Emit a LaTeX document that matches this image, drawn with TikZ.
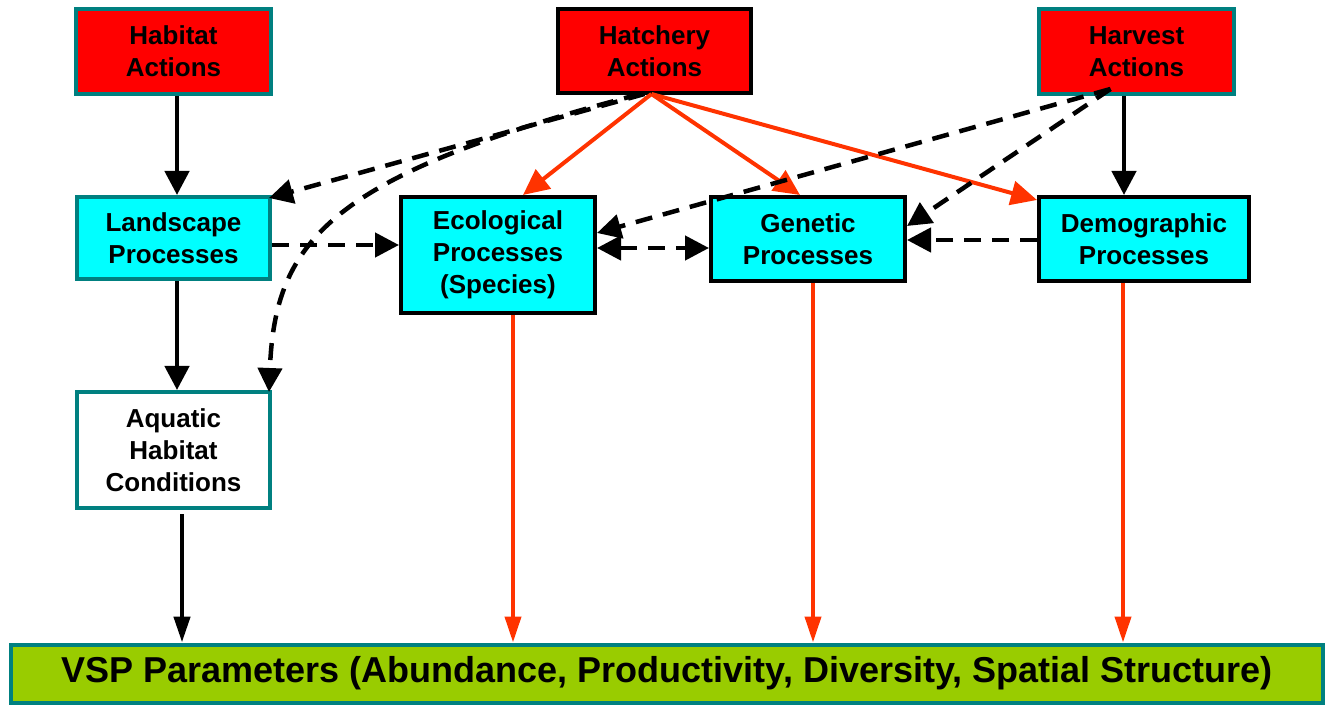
\documentclass[tikz,border=0pt]{standalone}
\usepackage{fontspec}
\setmainfont{Liberation Sans}
\usetikzlibrary{arrows.meta,calc}
\definecolor{boxred}{HTML}{FF0000}
\definecolor{teal}{HTML}{008080}
\definecolor{cyanfill}{HTML}{00FFFF}
\definecolor{lime}{HTML}{99CC00}
\definecolor{arrred}{HTML}{FF3300}
\begin{document}
\begin{tikzpicture}[x=1pt,y=-1pt,
  box/.style={draw, line width=4pt, inner sep=0pt, align=center,
    font=\fontsize{26}{32}\selectfont\bfseries},
  act/.style={box, fill=boxred},
  proc/.style={box, fill=cyanfill},
  blk/.style={line width=4.5pt, -{Triangle[length=24pt,width=24pt]}},
  blkd/.style={blk, dash pattern=on 17pt off 11pt},
  rd/.style={draw=arrred, line width=4pt, -{Triangle[length=26pt,width=24pt]}},
  rdv/.style={draw=arrred, line width=4pt, -{Triangle[length=26pt,width=16pt]}},
  blkv/.style={line width=4.5pt, -{Triangle[length=26pt,width=16pt]}}
]
\useasboundingbox (0,0) rectangle (1328,708);
% boxes
\node[act, draw=teal, minimum width=195pt, minimum height=85pt] (hab) at (173.5,51.5) {Habitat\\Actions};
\node[act, draw=black, minimum width=193pt, minimum height=84pt] (hatch) at (654.5,51) {Hatchery\\Actions};
\node[act, draw=teal, minimum width=195pt, minimum height=85pt] (harv) at (1136.5,51.5) {Harvest\\Actions};
\node[proc, draw=teal, minimum width=193pt, minimum height=82pt] (land) at (173.5,238) {Landscape\\Processes};
\node[proc, draw=black, minimum width=194pt, minimum height=116pt] (eco) at (498,255) {Ecological\\Processes\\(Species)};
\node[proc, draw=black, minimum width=194pt, minimum height=84pt] (gen) at (808,239) {Genetic\\Processes};
\node[proc, draw=black, minimum width=210pt, minimum height=84pt] (demo) at (1144,239) {Demographic\\Processes};
\node[box, draw=teal, fill=white, minimum width=193pt, minimum height=116pt] (aqua) at (173.5,450) {Aquatic\\Habitat\\Conditions};
\node[box, draw=teal, fill=lime, minimum width=1312pt, minimum height=58pt,
  font=\fontsize{36}{40}\selectfont\bfseries] (vsp) at (667,673.5)
  {VSP Parameters (Abundance, Productivity, Diversity, Spatial Structure)};
% solid black connectors
\draw[blk] ($(hab.south)+(3.5,0)$) -- ($(land.north)+(3.5,0)$);
\draw[blk] ($(land.south)+(3.5,0)$) -- ($(aqua.north)+(3.5,0)$);
\coordinate (aq1) at ($(aqua.south)+(8.5,4)$);
\draw[blkv] (aq1) -- (aq1 |- vsp.north);
\draw[blk] ($(harv.south)+(-12.5,0)$) -- ($(demo.north)+(-20,0)$);
% red connectors
\coordinate (hs) at ($(hatch.south)+(-3,-1)$);
\draw[rd] (hs) -- ($(eco.north)+(25,0)$);
\draw[rd] (hs) -- ($(gen.north)+(-8,0)$);
\draw[rd] (hs) -- ($(demo.north west)+(0,5)$);
\coordinate (e1) at ($(eco.south)+(15,0)$);
\draw[rdv] (e1) -- (e1 |- vsp.north);
\coordinate (g1) at ($(gen.south)+(5,0)$);
\draw[rdv] (g1) -- (g1 |- vsp.north);
\coordinate (d1) at ($(demo.south)+(-21,0)$);
\draw[rdv] (d1) -- (d1 |- vsp.north);
% dashed connectors
\draw[blkd] ($(hatch.south)+(-10,-1)$) -- ($(land.north east)+(-3,3)$);
\draw[blkd] ($(hatch.south)+(-14,-1)$) .. controls (330,175) and (275,240) .. ($(aqua.north east)+(-3,2)$);
\coordinate (l1) at ($(land.east)+(0,7)$);
\draw[blkd] (l1) -- (l1 -| eco.west);
\coordinate (ec1) at ($(eco.east)+(0,-7)$);
\draw[blkd, {Triangle[length=24pt,width=24pt]}-{Triangle[length=24pt,width=24pt]}] (ec1) -- (ec1 -| gen.west);
\coordinate (dm1) at ($(demo.west)+(0,1)$);
\draw[blkd] (dm1) -- (dm1 -| gen.east);
\coordinate (hv) at ($(harv.south)+(-26,-7)$);
\draw[blkd] (hv) -- ($(eco.east)+(0,-22)$);
\draw[blkd] (hv) -- ($(gen.east)+(0,-13)$);
\end{tikzpicture}
\end{document}
